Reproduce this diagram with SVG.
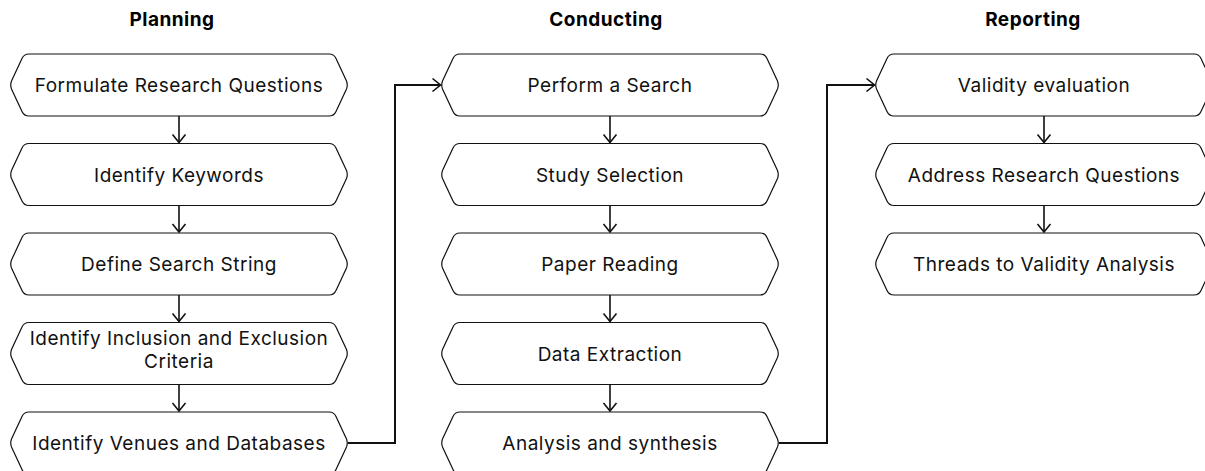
<svg xmlns="http://www.w3.org/2000/svg" width="1205" height="471" viewBox="0 0 1205 471">
<style>
.hd{font-family:Inter,"Liberation Sans",sans-serif;font-weight:700;font-size:19px;letter-spacing:0.5px;fill:#000;text-anchor:middle}
.lb{font-family:Inter,"Liberation Sans",sans-serif;font-size:19px;letter-spacing:0.5px;fill:#111;text-anchor:middle}
.box{fill:#fff;stroke:#111;stroke-width:1.2}
.ar{fill:none;stroke:#111;stroke-width:1.6}
.lk{fill:none;stroke:#111;stroke-width:2}
</style>
<defs>
<path id="hex" d="M19 0H319Q324 0 326 4.5L336.5 27Q338 31 336.5 35L326 57.5Q324 62 319 62H19Q14 62 12 57.5L1.5 35Q0 31 1.5 27L12 4.5Q14 0 19 0Z"/>
<marker id="chev" viewBox="-10 -8 12 16" markerWidth="12" markerHeight="16" refX="0" refY="0" orient="auto" markerUnits="userSpaceOnUse">
<path d="M-8 -6.5L0 0L-8 6.5" fill="none" stroke="#111" stroke-width="1.6"/>
</marker>
</defs>
<text class="hd" x="172" y="26">Planning</text>
<text class="hd" x="606" y="26">Conducting</text>
<text class="hd" x="1033" y="26">Reporting</text>
<g id="p1"><use href="#hex" class="box" x="10" y="54"/><text class="lb" x="179" y="92">Formulate Research Questions</text></g>
<g id="p2"><use href="#hex" class="box" x="10" y="143.5"/><text class="lb" x="179" y="181.5">Identify Keywords</text></g>
<g id="p3"><use href="#hex" class="box" x="10" y="233"/><text class="lb" x="179" y="271">Define Search String</text></g>
<g id="p4"><use href="#hex" class="box" x="10" y="322.5"/><text class="lb" x="179" y="345">Identify Inclusion and Exclusion</text><text class="lb" x="179" y="368">Criteria</text></g>
<g id="p5"><use href="#hex" class="box" x="10" y="412"/><text class="lb" x="179" y="450">Identify Venues and Databases</text></g>
<g id="c1"><use href="#hex" class="box" x="441" y="54"/><text class="lb" x="610" y="92">Perform a Search</text></g>
<g id="c2"><use href="#hex" class="box" x="441" y="143.5"/><text class="lb" x="610" y="181.5">Study Selection</text></g>
<g id="c3"><use href="#hex" class="box" x="441" y="233"/><text class="lb" x="610" y="271">Paper Reading</text></g>
<g id="c4"><use href="#hex" class="box" x="441" y="322.5"/><text class="lb" x="610" y="360.5">Data Extraction</text></g>
<g id="c5"><use href="#hex" class="box" x="441" y="412"/><text class="lb" x="610" y="450">Analysis and synthesis</text></g>
<g id="r1"><use href="#hex" class="box" x="875" y="54"/><text class="lb" x="1044" y="92">Validity evaluation</text></g>
<g id="r2"><use href="#hex" class="box" x="875" y="143.5"/><text class="lb" x="1044" y="181.5">Address Research Questions</text></g>
<g id="r3"><use href="#hex" class="box" x="875" y="233"/><text class="lb" x="1044" y="271">Threads to Validity Analysis</text></g>
<g id="connectors" marker-end="url(#chev)">
<path class="ar" d="M179 116V142.5"/>
<path class="ar" d="M179 205.5V232"/>
<path class="ar" d="M179 295V321.5"/>
<path class="ar" d="M179 384.5V411"/>
<path class="ar" d="M610 116V142.5"/>
<path class="ar" d="M610 205.5V232"/>
<path class="ar" d="M610 295V321.5"/>
<path class="ar" d="M610 384.5V411"/>
<path class="ar" d="M1044 116V142.5"/>
<path class="ar" d="M1044 205.5V232"/>
<path class="lk" d="M348 443H395V85H440.5"/>
<path class="lk" d="M779 443H827V85H874.5"/>
</g>
</svg>
